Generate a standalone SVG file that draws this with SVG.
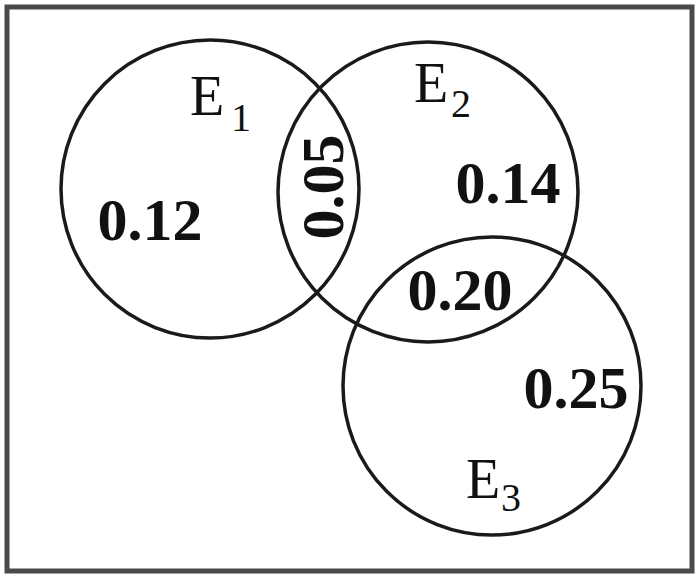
<svg xmlns="http://www.w3.org/2000/svg" width="696" height="576" viewBox="0 0 696 576">
<style>
.c{fill:none;stroke:#1a1a1a;stroke-width:3.5}
.v{font-family:"Liberation Serif",serif;font-weight:bold;font-size:60px;fill:#111;text-anchor:middle}
.e{font-family:"Liberation Serif",serif;font-size:56px;fill:#111}
.s{font-family:"Liberation Serif",serif;font-size:40px;fill:#111}
</style>
<rect x="0" y="0" width="696" height="576" fill="#fff"/>
<rect x="7" y="7" width="685" height="564" fill="none" stroke="#4a4a4a" stroke-width="5"/>
<g id="E1">
<circle class="c" cx="210" cy="189" r="149"/>
<text class="e" x="190" y="115">E</text><text class="s" x="231" y="131">1</text>
<text class="v" x="150" y="240">0.12</text>
</g>
<g id="E2">
<circle class="c" cx="428" cy="192" r="150"/>
<text class="e" x="414" y="102">E</text><text class="s" x="451" y="117">2</text>
<text class="v" x="508" y="203">0.14</text>
</g>
<g id="E3">
<circle class="c" cx="492" cy="386" r="149"/>
<text class="e" x="466" y="498">E</text><text class="s" x="501" y="511">3</text>
<text class="v" x="576" y="408">0.25</text>
</g>
<g id="overlaps">
<text class="v" transform="translate(343,187) rotate(-90)">0.05</text>
<text class="v" x="460" y="310">0.20</text>
</g>
<g id="connectors"></g>
</svg>
